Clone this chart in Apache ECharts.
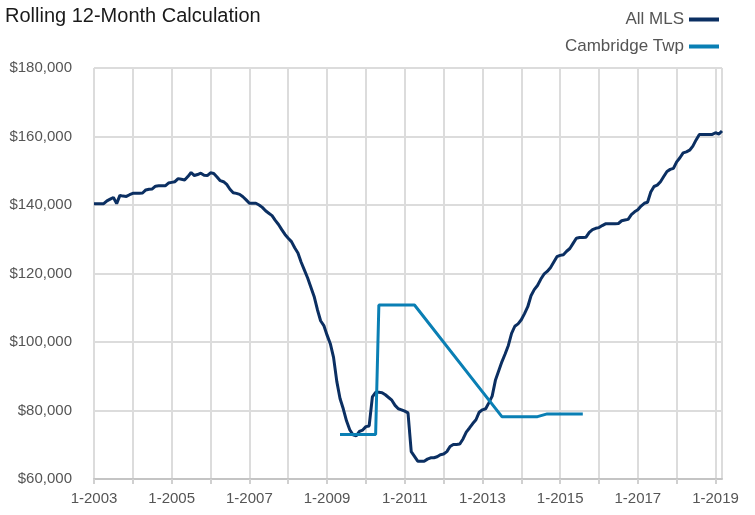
<!DOCTYPE html>
<html>
<head>
<meta charset="utf-8">
<script src="https://cdn.jsdelivr.net/npm/echarts@6/dist/echarts.min.js"></script>
<style>
  html, body { margin: 0; padding: 0; background: #fff; }
  #chart { width: 755px; height: 515px; }
</style>
</head>
<body>
<div id="chart"></div>
<script>
// monthly categories, 1-2003 .. 3-2019
const months = [];
for (let y = 2003; y <= 2019; y++) {
  for (let m = 1; m <= 12; m++) {
    if (y === 2019 && m > 3) break;
    months.push(m + '-' + y);
  }
}

const allMls = [
  140400, 140400, 140400, 140400, 141200, 141700, 142200, 140400, 142800, 142600, 142500, 143000,
  143400, 143400, 143400, 143500, 144400, 144600, 144700, 145500, 145600, 145600, 145600, 146400,
  146600, 146800, 147700, 147500, 147300, 148300, 149500, 148600, 148900, 149300, 148700, 148600,
  149400, 149200, 148200, 147100, 146800, 146000, 144600, 143600, 143400, 143100, 142400, 141500,
  140500, 140500, 140500, 140000, 139300, 138300, 137600, 136900, 135500, 134300, 132800, 131400,
  130300, 129300, 127500, 126000, 123300, 121000, 118700, 116000, 113300, 109500, 106200, 104800,
  102000, 99500, 95500, 88500, 83500, 80500, 77000, 74400, 72900, 72600, 73900, 74300,
  75300, 75500, 84000, 85300, 85300, 85200, 84600, 83800, 83000, 81500, 80500, 80200,
  79800, 79300, 68000, 66600, 65200, 65200, 65200, 65800, 66200, 66200, 66500, 67100,
  67300, 68000, 69500, 70100, 70100, 70200, 71700, 73700, 74900, 76200, 77300, 79500,
  80200, 80500, 82300, 84200, 88800, 91500, 94200, 96500, 99000, 102500, 104600, 105300,
  106500, 108300, 110300, 113500, 115300, 116500, 118300, 119800, 120600, 121700, 123300, 124900,
  125300, 125500, 126500, 127300, 128800, 130300, 130500, 130500, 130600, 132000, 132800, 133200,
  133400, 134000, 134500, 134500, 134500, 134500, 134600, 135400, 135600, 135800, 137200, 138000,
  138600, 139700, 140500, 140800, 143800, 145400, 145800, 146800, 148300, 149800, 150400, 150700,
  152600, 153800, 155200, 155500, 156000, 157200, 159000, 160600, 160600, 160600, 160600, 160600,
  161100, 160700, 161600
];

// Cambridge Twp: months without a value are null (line bridges the gap)
const cambridge = [];
for (let i = 0; i < months.length; i++) cambridge.push(null);
const cambridgeKnown = {
  76: 73000, 77: 73000, 78: 73000, 79: 73000, 80: 73000, 81: 73000,
  82: 73000, 83: 73000, 84: 73000, 85: 73000, 86: 73000, 87: 73000,
  88: 110800, 89: 110800, 90: 110800, 91: 110800, 92: 110800, 93: 110800,
  94: 110800, 95: 110800, 96: 110800, 97: 110800, 98: 110800, 99: 110800,
  126: 78200, 127: 78200, 128: 78200, 129: 78200, 130: 78200, 131: 78200,
  132: 78200, 133: 78200, 134: 78200, 135: 78200, 136: 78200, 137: 78200,
  140: 79000, 141: 79000, 142: 79000, 143: 79000, 144: 79000, 145: 79000,
  146: 79000, 147: 79000, 148: 79000, 149: 79000, 150: 79000, 151: 79000
};
Object.keys(cambridgeKnown).forEach(function (k) { cambridge[+k] = cambridgeKnown[k]; });

const yTicks = { min: 60000, max: 180000, interval: 20000 };

const FONT = '"Liberation Sans Narrow", "Liberation Sans", Arial, sans-serif';
const NAVY = '#0b2f62';
const BLUE = '#0a7fb4';
const last = months.length - 1;

const chart = echarts.init(document.getElementById('chart'), null, { renderer: 'canvas' });

chart.setOption({
  animation: false,
  title: {
    text: 'Rolling 12-Month Calculation',
    left: 0,
    top: 1,
    textStyle: { fontFamily: FONT, fontSize: 20, fontWeight: 'normal', color: '#1a1a1a' }
  },
  legend: {
    orient: 'vertical',
    right: 31,
    top: 6,
    align: 'right',
    itemGap: 10,
    itemWidth: 30,
    itemHeight: 4,
    icon: 'rect',
    textStyle: { fontFamily: FONT, fontSize: 17, color: '#555' },
    data: ['All MLS', 'Cambridge Twp']
  },
  grid: { left: 94, right: 33, top: 68, bottom: 36, containLabel: false },
  xAxis: {
    type: 'category',
    data: months,
    boundaryGap: false,
    axisLine: { lineStyle: { color: '#c4c4c4', width: 2 } },
    axisTick: {
      show: true,
      length: 5,
      interval: function (i) { return i % 12 === 0; },
      lineStyle: { color: '#d0d0d0', width: 2 }
    },
    axisLabel: {
      interval: function (i) { return i % 24 === 0; },
      margin: 12,
      fontFamily: FONT,
      fontSize: 15,
      color: '#555'
    },
    splitLine: {
      show: true,
      interval: function (i) { return i % 12 === 0 || i === last; },
      lineStyle: { color: '#dcdcdc', width: 2 }
    }
  },
  yAxis: {
    type: 'value',
    min: yTicks.min,
    max: yTicks.max,
    interval: yTicks.interval,
    axisLine: { show: false },
    axisTick: { show: false },
    axisLabel: {
      margin: 22,
      fontFamily: FONT,
      fontSize: 15,
      color: '#555',
      formatter: function (v) { return '$' + v.toLocaleString('en-US'); }
    },
    splitLine: { lineStyle: { color: '#dcdcdc', width: 2 } }
  },
  series: [
    {
      name: 'All MLS',
      type: 'line',
      data: allMls,
      showSymbol: false,
      lineStyle: { color: NAVY, width: 3 },
      itemStyle: { color: NAVY },
      z: 3
    },
    {
      name: 'Cambridge Twp',
      type: 'line',
      data: cambridge,
      connectNulls: true,
      showSymbol: false,
      lineStyle: { color: BLUE, width: 3 },
      itemStyle: { color: BLUE },
      z: 4
    }
  ]
});
</script>
</body>
</html>
